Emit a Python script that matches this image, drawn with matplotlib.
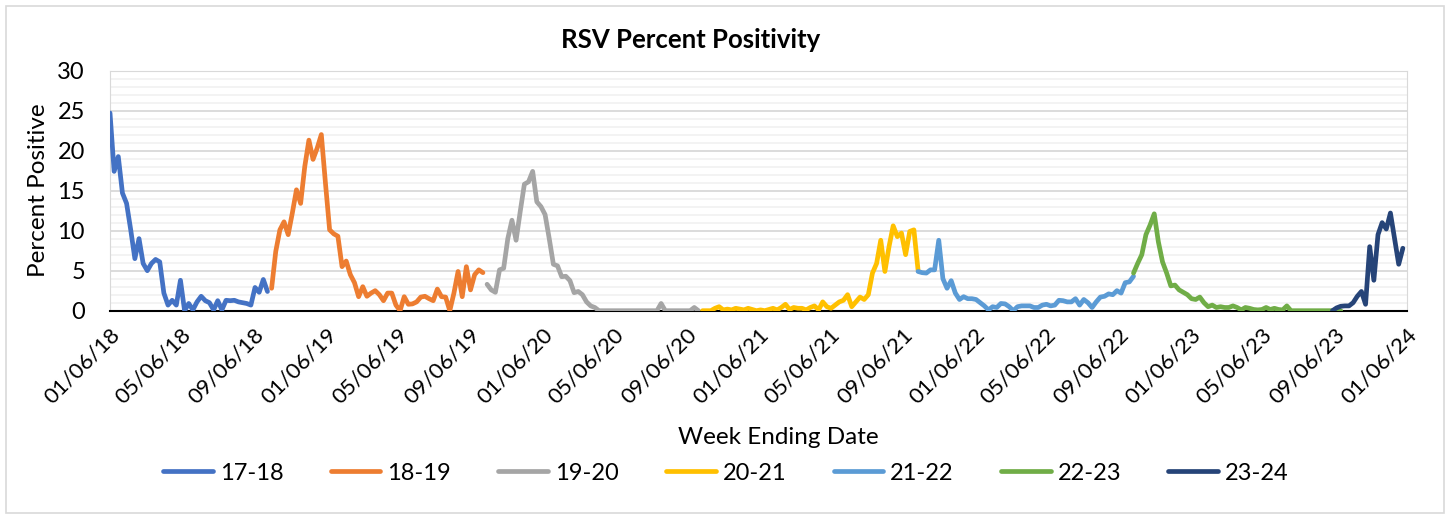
import matplotlib.pyplot as plt
import matplotlib.dates as mdates
from matplotlib.patches import Rectangle
from matplotlib.ticker import MultipleLocator
import pandas as pd

plt.rcParams['font.family'] = ['Lato', 'DejaVu Sans']

# weekly RSV percent positive, one list per season
seasons = ['17-18', '18-19', '19-20', '20-21', '21-22', '22-23', '23-24']
starts = ['2018-01-06', '2018-10-06', '2019-10-05', '2020-10-03',
          '2021-10-02', '2022-10-01', '2023-09-02']
colors = ['#4472C4', '#ED7D31', '#A5A5A5', '#FFC000', '#5B9BD5', '#70AD47', '#264478']

v1718 = [24.7, 17.4, 19.25, 14.7, 13.4, 10.1, 6.5, 9.0, 5.9, 5.0,
         5.9, 6.4, 6.1, 2.2, 0.7, 1.3, 0.7, 3.8, 0.0, 0.9,
         0.1, 1.1, 1.8, 1.25, 1.0, 0.1, 1.25, 0.1, 1.3, 1.25,
         1.3, 1.1, 1.0, 0.9, 0.7, 2.9, 2.3, 3.9, 2.4]
v1819 = [2.8, 7.4, 10.1, 11.1, 9.5, 12.2, 15.1, 13.4, 18.0, 21.3,
         18.9, 20.3, 22.0, 15.9, 10.1, 9.6, 9.3, 5.5, 6.2, 4.5,
         3.5, 1.75, 3.0, 1.8, 2.2, 2.5, 2.0, 1.25, 2.2, 2.2,
         0.7, 0.0, 1.75, 0.8, 0.85, 1.1, 1.7, 1.8, 1.5, 1.25,
         2.7, 1.75, 1.7, 0.0, 2.2, 4.9, 1.75, 5.5, 2.6, 4.5,
         5.1, 4.75]
v1920 = [3.3, 2.6, 2.3, 5.1, 5.3, 9.0, 11.3, 8.8, 12.4, 15.8,
         16.1, 17.4, 13.6, 13.0, 12.0, 9.0, 5.8, 5.6, 4.25, 4.3,
         3.75, 2.25, 2.4, 2.0, 1.1, 0.6, 0.4, 0.0, 0, 0,
         0, 0, 0, 0, 0, 0, 0, 0, 0, 0,
         0, 0, 0.9, 0, 0, 0, 0, 0, 0, 0,
         0.4, 0.0]
v2021 = [0, 0, 0, 0.3, 0.5, 0.1, 0.2, 0.1, 0.3, 0.2,
         0.1, 0.3, 0.15, 0, 0.1, 0, 0.15, 0.3, 0.1, 0.4,
         0.8, 0.15, 0.4, 0.3, 0.3, 0.1, 0.4, 0.6, 0.1, 1.1,
         0.5, 0.3, 0.7, 1.1, 1.3, 2.0, 0.5, 1.1, 1.7, 1.4,
         2.0, 4.7, 5.9, 8.8, 4.9, 8.0, 10.6, 9.25, 9.7, 7.0,
         9.9, 10.1, 5.1]
v2122 = [4.9, 4.75, 4.7, 5.1, 5.1, 8.8, 4.0, 2.8, 3.75, 2.2,
         1.4, 1.75, 1.5, 1.5, 1.4, 1.0, 0.6, 0.1, 0.5, 0.4,
         0.9, 0.85, 0.5, 0.0, 0.5, 0.6, 0.6, 0.6, 0.4, 0.4,
         0.7, 0.8, 0.6, 0.7, 1.3, 1.25, 1.1, 1.1, 1.5, 0.7,
         1.4, 1.0, 0.4, 1.1, 1.7, 1.8, 2.1, 2.0, 2.5, 2.2,
         3.5, 3.6, 4.3]
v2223 = [4.7, 5.9, 7.0, 9.5, 10.7, 12.1, 8.6, 6.1, 4.7, 3.1,
         3.2, 2.6, 2.3, 2.0, 1.5, 1.4, 1.7, 1.0, 0.5, 0.7,
         0.4, 0.5, 0.4, 0.4, 0.6, 0.4, 0.1, 0.4, 0.3, 0.15,
         0.1, 0.15, 0.4, 0.15, 0.3, 0.15, 0.1, 0.6, 0.0, 0,
         0, 0, 0, 0, 0, 0, 0, 0, 0, 0,
         0]
v2324 = [0.0, 0.35, 0.55, 0.6, 0.6, 1.0, 1.8, 2.4, 0.8, 8.0,
         3.8, 9.5, 11.0, 10.2, 12.2, 9.0, 5.8, 7.8]
values = [v1718, v1819, v1920, v2021, v2122, v2223, v2324]

fig = plt.figure(figsize=(14.52, 5.18), dpi=100)
ax = fig.add_axes([110 / 1452, 1 - 310.7 / 518, 1297 / 1452, 240.2 / 518])

# рамка вокруг всей диаграммы
fig.patches.append(Rectangle((6 / 1452, 1 - 513 / 518), 1438 / 1452, 507 / 518,
                             transform=fig.transFigure, fill=False,
                             edgecolor='#d9d9d9', lw=1.2))

for name, start, vals, c in zip(seasons, starts, values, colors):
    dates = pd.date_range(start, periods=len(vals), freq='7D')
    ax.plot(dates, vals, color=c, lw=3.4, label=name,
            solid_joinstyle='round', solid_capstyle='round', zorder=3)

ax.set_xlim(pd.Timestamp('2018-01-06'), pd.Timestamp('2024-01-06'))
ax.set_ylim(0, 30)
ax.yaxis.set_major_locator(MultipleLocator(5))
ax.yaxis.set_minor_locator(MultipleLocator(1))
ax.grid(which='major', axis='y', color='#d9d9d9', lw=1.3, zorder=0)
ax.grid(which='minor', axis='y', color='#f0f0f0', lw=1.1, zorder=0)
ax.set_axisbelow(True)

# тики каждые 4 месяца, 6-го числа
ticks = pd.date_range('2018-01-01', '2024-01-01', freq='4MS') + pd.Timedelta(days=5)
ax.set_xticks(ticks)
ax.xaxis.set_major_formatter(mdates.DateFormatter('%m/%d/%y'))
ax.tick_params(axis='x', length=0, pad=10, labelsize=16)
ax.tick_params(axis='y', which='both', length=0, pad=18, labelsize=17)
for lab in ax.get_xticklabels():
    lab.set_rotation(45)
    lab.set_ha('right')
    lab.set_rotation_mode('anchor')

for side in ['left', 'top', 'right']:
    ax.spines[side].set_color('#d9d9d9')
ax.spines['bottom'].set_color('black')
ax.spines['bottom'].set_linewidth(1.5)

ax.set_ylabel('Percent Positive', fontsize=17.5, labelpad=6)
fig.text(691 / 1452, 1 - 40 / 518, 'RSV Percent Positivity', ha='center', va='center',
         fontsize=18.5, fontweight='bold')
fig.text(778 / 1452, 1 - 438 / 518, 'Week Ending Date', ha='center', va='center', fontsize=17.5)

fig.legend(loc='center', bbox_to_anchor=(726 / 1452, 1 - 473 / 518), ncol=7, frameon=False,
           fontsize=17, handlelength=2.1, handletextpad=0.3, columnspacing=2.0)

fig.savefig('out.png', dpi=100)
